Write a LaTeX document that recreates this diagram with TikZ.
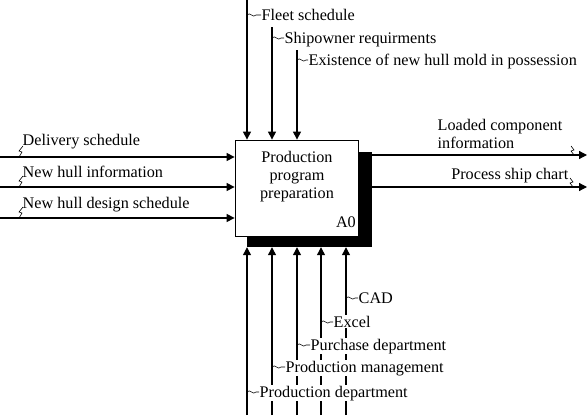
\documentclass[tikz,border=0pt]{standalone}
\usepackage{fontspec}
\setmainfont{Liberation Serif}
\usetikzlibrary{arrows.meta}
\begin{document}
\begin{tikzpicture}[x=1pt,y=-1pt,
  flow/.style={line width=1.2pt,-{Triangle[length=8pt,width=8pt]}},
  lbl/.style={anchor=base west,inner sep=0.5pt,font=\fontsize{16.2}{18}\selectfont},
  lblw/.style={lbl,fill=white},
  sq/.style={line width=0.6pt}]
\useasboundingbox (0,0) rectangle (588,415);
% shadow and box
\node[fill=black,minimum width=125pt,minimum height=95pt,inner sep=0pt] (shadow) at (309.5,199.5) {};
\node[draw,fill=white,line width=0.8pt,minimum width=123pt,minimum height=96pt,inner sep=0pt] (box) at (296.5,188) {};
\node[anchor=base,inner sep=0pt,font=\fontsize{16.2}{18}\selectfont,align=center] (boxtxt) at (297,198) {Production\\program\\preparation};
\node[anchor=base east,inner sep=0pt,font=\fontsize{16.2}{18}\selectfont] (num) at (356,227) {A0};
% top controls
\coordinate (c1) at (247,0);
\coordinate (c2) at (272,27);
\coordinate (c3) at (297,50);
\draw[flow] (c1) -- (c1 |- box.north);
\draw[flow] (c2) -- (c2 |- box.north);
\draw[flow] (c3) -- (c3 |- box.north);
\node[lbl] (l1) at (261,20) {Fleet schedule};
\node[lbl] (l2) at (284,43) {Shipowner requirments};
\node[lbl] (l3) at (308,65) {Existence of new hull mold in possession};
\draw[sq] (247,15) .. controls (250,11) and (253,19) .. (256,15) -- (261,15);
\draw[sq] (272,38) .. controls (275,34) and (278,42) .. (281,38) -- (284,38);
\draw[sq] (297,60) .. controls (300,56) and (303,64) .. (306,60) -- (308,60);
% left inputs
\coordinate (i1) at (0,157);
\coordinate (i2) at (0,187);
\coordinate (i3) at (0,218);
\draw[flow] (i1) -- (i1 -| box.west);
\draw[flow] (i2) -- (i2 -| box.west);
\draw[flow] (i3) -- (i3 -| box.west);
\node[lbl] (li1) at (22,145) {Delivery schedule};
\node[lbl] (li2) at (22,177) {New hull information};
\node[lbl] (li3) at (22,208) {New hull design schedule};
\draw[sq] (19,157) -- (22,152) -- (19,151) -- (23,146);
\draw[sq] (19,187) -- (22,182) -- (19,181) -- (23,176);
\draw[sq] (19,218) -- (22,213) -- (19,212) -- (23,207);
% right outputs
\coordinate (o1) at (587,155);
\coordinate (o2) at (587,187);
\draw[flow] (o1 -| shadow.east) -- (o1);
\draw[flow] (o2 -| shadow.east) -- (o2);
\node[lbl,align=left] (lo1) at (437,148) {Loaded component\\information};
\node[lbl,anchor=base east] (lo2) at (569,179) {Process ship chart};
\draw[sq] (571,146) -- (574,150) -- (571,151) -- (574,155);
\draw[sq] (570,178) -- (573,182) -- (570,183) -- (573,187);
% bottom mechanisms
\coordinate (m1) at (247,415);
\coordinate (m2) at (272,415);
\coordinate (m3) at (297,415);
\coordinate (m4) at (321,415);
\coordinate (m5) at (346,415);
\draw[flow] (m1) -- (m1 |- shadow.south);
\draw[flow] (m2) -- (m2 |- shadow.south);
\draw[flow] (m3) -- (m3 |- shadow.south);
\draw[flow] (m4) -- (m4 |- shadow.south);
\draw[flow] (m5) -- (m5 |- shadow.south);
\node[lblw] (lm5) at (358,303) {CAD};
\node[lblw] (lm4) at (333,327) {Excel};
\node[lblw] (lm3) at (310,350) {Purchase department};
\node[lblw] (lm2) at (285,372) {Production management};
\node[lblw] (lm1) at (259,397) {Production department};
\draw[sq] (346,298) .. controls (349,294) and (352,302) .. (355,298) -- (358,298);
\draw[sq] (321,322) .. controls (324,318) and (327,326) .. (330,322) -- (333,322);
\draw[sq] (297,345) .. controls (300,341) and (303,349) .. (306,345) -- (310,345);
\draw[sq] (272,367) .. controls (275,363) and (278,371) .. (281,367) -- (285,367);
\draw[sq] (247,392) .. controls (250,388) and (253,396) .. (256,392) -- (259,392);
\end{tikzpicture}
\end{document}
